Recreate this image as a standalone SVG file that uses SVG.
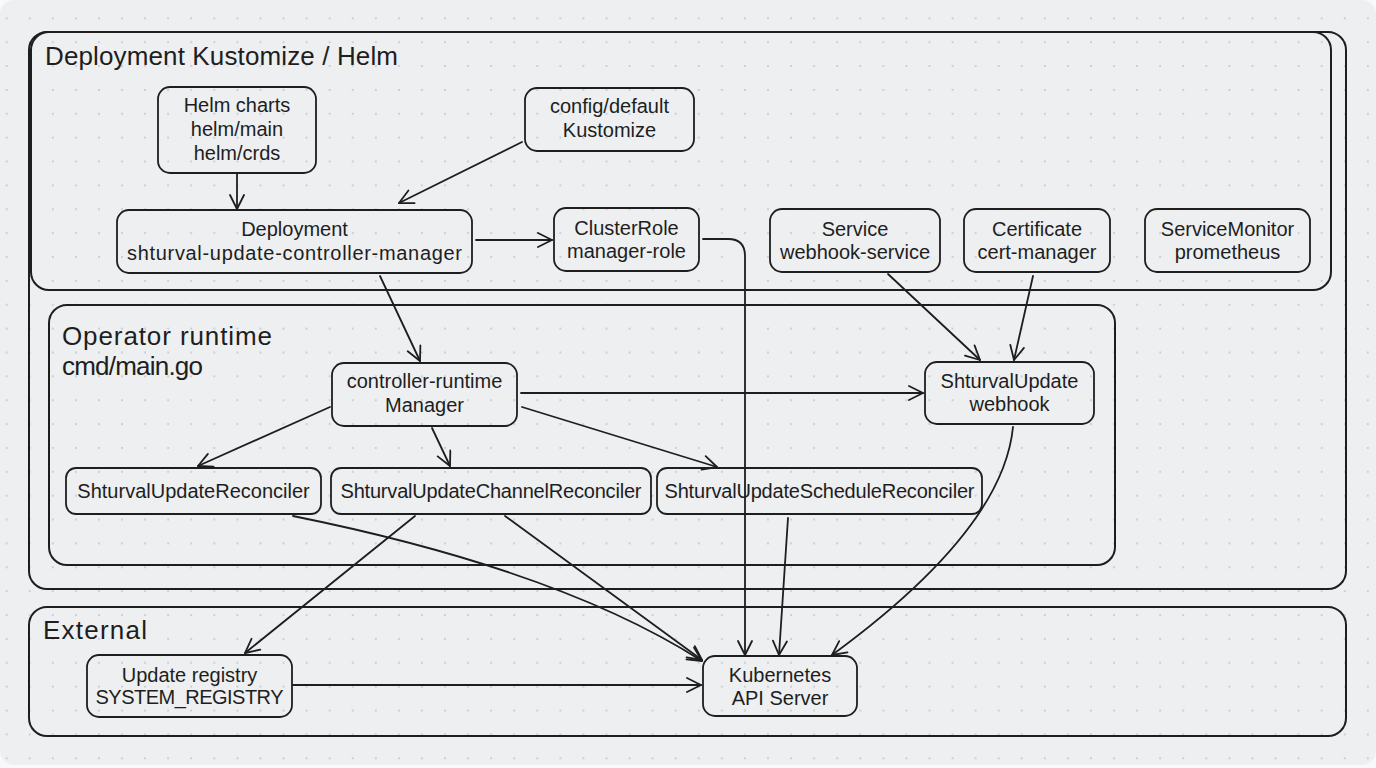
<svg xmlns="http://www.w3.org/2000/svg" width="1376" height="768" viewBox="0 0 1376 768">
<style>
.box{fill:none;stroke:#1e1e1e;stroke-width:1.8;stroke-linejoin:round}
.cont{fill:none;stroke:#1e1e1e;stroke-width:2}
.t{font-family:"Liberation Sans",Arial,sans-serif;font-size:20px;fill:#1e1e1e;text-anchor:middle}
.h{font-family:"Liberation Sans",Arial,sans-serif;font-size:26px;fill:#1e1e1e}
.e{fill:none;stroke:#1e1e1e;stroke-width:1.8;stroke-linecap:round;marker-end:url(#arr)}
</style>
<defs>
<pattern id="dots" patternUnits="userSpaceOnUse" x="6.7" y="18.3" width="23.07" height="23.87">
<circle cx="0" cy="0" r="1.1" fill="#c6cacf"/><circle cx="23.07" cy="0" r="1.1" fill="#c6cacf"/><circle cx="0" cy="23.87" r="1.1" fill="#c6cacf"/><circle cx="23.07" cy="23.87" r="1.1" fill="#c6cacf"/>
</pattern>
<marker id="arr" markerUnits="userSpaceOnUse" markerWidth="20" markerHeight="20" refX="16" refY="8" orient="auto">
<path d="M2,1 L16,8 L2,15" fill="none" stroke="#1e1e1e" stroke-width="1.8" stroke-linecap="round" stroke-linejoin="round"/>
</marker>
</defs>
<rect width="1376" height="768" fill="#f8f9fa"/>
<rect x="0" y="0" width="1376" height="765" rx="14" fill="#edeff1"/>
<rect x="0" y="0" width="1376" height="765" rx="14" fill="url(#dots)"/>

<g id="cluster-deploy-outer"><rect class="cont" x="29" y="32" width="1317" height="557" rx="18"/></g>
<g id="cluster-deploy"><rect class="cont" x="31" y="32" width="1300" height="258" rx="18"/>
<text class="h" x="45" y="65" textLength="353">Deployment Kustomize / Helm</text></g>
<g id="cluster-operator"><rect class="cont" x="49" y="305" width="1066" height="260" rx="18"/>
<text class="h" x="62" y="345" textLength="210">Operator runtime</text><text class="h" x="62" y="375" textLength="141">cmd/main.go</text></g>
<g id="cluster-external"><rect class="cont" x="29" y="607" width="1317" height="129" rx="18"/>
<text class="h" x="43" y="639" textLength="104">External</text></g>

<g id="connectors">
<path class="e" d="M237,174 L237,209"/>
<path class="e" d="M522,142 L399,203"/>
<path class="e" d="M476,240 L552,240"/>
<path class="e" d="M380,276 L420,361"/>
<path class="e" d="M703,239 L728,239 Q745,239 745,256 L745,655"/>
<path class="e" d="M888,274 L980,360"/>
<path class="e" d="M1033,276 L1014,360"/>
<path class="e" d="M521,393 L923,393"/>
<path class="e" d="M330,407 L198,466"/>
<path class="e" d="M432,428 L450,466"/>
<path class="e" d="M522,407 L717,467"/>
<path class="e" d="M293,516 Q560,570 702,661"/>
<path class="e" d="M415,516 L245,653"/>
<path class="e" d="M505,516 L702,660"/>
<path class="e" d="M788,518 L779,655"/>
<path class="e" d="M1013,427 Q1003,530 832,655"/>
<path class="e" d="M293,685 L701,685"/>
</g>

<g id="helm"><rect class="box" x="158" y="87" width="158" height="86" rx="12"/>
<text class="t" x="237" y="112">Helm charts</text><text class="t" x="237" y="136">helm/main</text><text class="t" x="237" y="160">helm/crds</text></g>
<g id="kustomize"><rect class="box" x="525" y="88" width="169" height="63" rx="12"/>
<text class="t" x="609.5" y="113">config/default</text><text class="t" x="609.5" y="137">Kustomize</text></g>
<g id="deployment"><rect class="box" x="117" y="210" width="355" height="63" rx="12"/>
<text class="t" x="294.5" y="236">Deployment</text><text class="t" x="294.5" y="260" textLength="335">shturval-update-controller-manager</text></g>
<g id="clusterrole"><rect class="box" x="554" y="208" width="145" height="63" rx="12"/>
<text class="t" x="626.5" y="235">ClusterRole</text><text class="t" x="626.5" y="258">manager-role</text></g>
<g id="service"><rect class="box" x="770" y="209" width="170" height="63" rx="12"/>
<text class="t" x="855" y="236">Service</text><text class="t" x="855" y="259">webhook-service</text></g>
<g id="certificate"><rect class="box" x="964" y="209" width="146" height="63" rx="12"/>
<text class="t" x="1037" y="236">Certificate</text><text class="t" x="1037" y="259">cert-manager</text></g>
<g id="servicemonitor"><rect class="box" x="1145" y="209" width="165" height="63" rx="12"/>
<text class="t" x="1227.5" y="236">ServiceMonitor</text><text class="t" x="1227.5" y="259">prometheus</text></g>
<g id="manager"><rect class="box" x="332" y="363" width="185" height="63" rx="12"/>
<text class="t" x="424.5" y="388">controller-runtime</text><text class="t" x="424.5" y="412">Manager</text></g>
<g id="webhook"><rect class="box" x="925" y="362" width="169" height="62" rx="12"/>
<text class="t" x="1009.5" y="388">ShturvalUpdate</text><text class="t" x="1009.5" y="411">webhook</text></g>
<g id="reconciler"><rect class="box" x="66" y="468" width="255" height="46" rx="10"/>
<text class="t" x="193.5" y="498">ShturvalUpdateReconciler</text></g>
<g id="channel-reconciler"><rect class="box" x="331" y="468" width="320" height="46" rx="10"/>
<text class="t" x="491" y="498" textLength="301">ShturvalUpdateChannelReconciler</text></g>
<g id="schedule-reconciler"><rect class="box" x="657" y="468" width="325" height="46" rx="10"/>
<text class="t" x="819.5" y="498" textLength="310">ShturvalUpdateScheduleReconciler</text></g>
<g id="registry"><rect class="box" x="87" y="655" width="205" height="62" rx="12"/>
<text class="t" x="189.5" y="682">Update registry</text><text class="t" x="189.5" y="704" textLength="188">SYSTEM_REGISTRY</text></g>
<g id="k8s-api"><rect class="box" x="703" y="656" width="154" height="60" rx="12"/>
<text class="t" x="780" y="682">Kubernetes</text><text class="t" x="780" y="705">API Server</text></g>
</svg>
